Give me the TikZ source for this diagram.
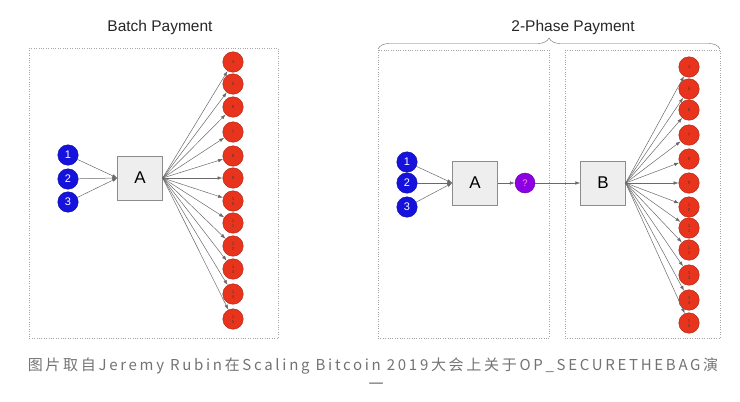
\documentclass[tikz,border=0pt]{standalone}
\usepackage{fontspec}
\setmainfont{Liberation Sans}
\newfontfamily\cjkfont[LetterSpace=18]{Noto Sans CJK SC}
\usepackage{tikz}
\usetikzlibrary{positioning,arrows.meta,decorations.pathreplacing}

\definecolor{inBlue}{RGB}{22,18,222}
\definecolor{outRed}{RGB}{232,52,28}
\definecolor{outRedDark}{RGB}{165,35,20}
\definecolor{midPurple}{RGB}{140,0,228}
\definecolor{boxGrey}{RGB}{238,238,238}
\definecolor{lineGrey}{RGB}{105,105,105}

\tikzset{
  input/.style={circle,fill=inBlue,draw=inBlue!70!black,minimum size=20.5pt,inner sep=0pt,
    text=white,font=\fontsize{11}{11}\selectfont},
  output/.style={circle,fill=outRed,draw=outRedDark,minimum size=20.5pt,inner sep=0pt,
    text=black!75,align=center,font=\fontsize{4.5}{5}\selectfont},
  query/.style={circle,fill=midPurple,draw=midPurple!70!black,minimum size=20pt,inner sep=0pt,
    text=magenta!40,font=\fontsize{9.5}{9.5}\selectfont},
  txbox/.style={rectangle,fill=boxGrey,draw=black!45,minimum width=45pt,minimum height=44pt,
    font=\fontsize{17}{17}\selectfont},
  frame/.style={draw=black!35,dotted},
  flow/.style={draw=lineGrey,line width=0.5pt,-{Latex[length=5pt,width=3.5pt]}},
  heading/.style={font=\fontsize{15.5}{15.5}\selectfont,text=black!85}
}

\begin{document}
\begin{tikzpicture}[x=1pt,y=-1pt]
    \useasboundingbox (0,0) rectangle (740,402);

    % batch payment
    \draw[frame] (29,48) rectangle (278,338);
    \node[heading] (batchTitle) at (160,27) {Batch Payment};
    \node[input] (in1) at (68,155) {1};
    \node[input] (in2) at (68,179) {2};
    \node[input] (in3) at (68,202) {3};
    \node[txbox] (batchA) at (140,178) {A};
    \node[output] (out4) at (233,62) {4};
    \node[output] (out5) at (233,84) {5};
    \node[output] (out6) at (233,107) {6};
    \node[output] (out7) at (233,132) {7};
    \node[output] (out8) at (233,156) {8};
    \node[output] (out9) at (233,178) {9};
    \node[output] (out10) at (233,201) {1\\0};
    \node[output] (out11) at (233,223) {1\\1};
    \node[output] (out12) at (233,246) {1\\2};
    \node[output] (out13) at (233,269) {1\\3};
    \node[output] (out14) at (233,294) {1\\4};
    \node[output] (out15) at (233,319) {1\\5};

\draw[flow] (in1) -- (batchA.west);
\draw[flow] (in2) -- (batchA.west);
\draw[flow] (in3) -- (batchA.west);
\draw[flow] (batchA.east) -- (out4);
\draw[flow] (batchA.east) -- (out5);
\draw[flow] (batchA.east) -- (out6);
\draw[flow] (batchA.east) -- (out7);
\draw[flow] (batchA.east) -- (out8);
\draw[flow] (batchA.east) -- (out9);
\draw[flow] (batchA.east) -- (out10);
\draw[flow] (batchA.east) -- (out11);
\draw[flow] (batchA.east) -- (out12);
\draw[flow] (batchA.east) -- (out13);
\draw[flow] (batchA.east) -- (out14);
\draw[flow] (batchA.east) -- (out15);

    % 2-phase payment
    \draw[frame] (378,50) rectangle (549,338);
    \draw[frame] (565,50) rectangle (720,338);
    \coordinate (braceLeft) at (378,49);
    \coordinate (braceRight) at (720,49);
    \node[heading] (phaseTitle) at (573,27) {2-Phase Payment};
    \node[input] (phIn1) at (407,162) {1};
    \node[input] (phIn2) at (407,183) {2};
    \node[input] (phIn3) at (407,207) {3};
    \node[txbox] (phA) at (475,183) {A};
    \node[query] (phQuery) at (525,183) {?};
    \node[txbox] (phB) at (603,183) {B};
    \node[output] (phOut4) at (689,67) {4};
    \node[output] (phOut5) at (689,89) {5};
    \node[output] (phOut6) at (689,110) {6};
    \node[output] (phOut7) at (689,135) {7};
    \node[output] (phOut8) at (689,159) {8};
    \node[output] (phOut9) at (689,183) {9};
    \node[output] (phOut10) at (689,207) {1\\0};
    \node[output] (phOut11) at (689,228) {1\\1};
    \node[output] (phOut12) at (689,250) {1\\2};
    \node[output] (phOut13) at (689,275) {1\\3};
    \node[output] (phOut14) at (689,300) {1\\4};
    \node[output] (phOut15) at (689,323) {1\\5};

\draw[lineGrey,decorate,decoration={brace,amplitude=11pt}] (braceLeft) -- (braceRight);
\draw[flow] (phIn1) -- (phA.west);
\draw[flow] (phIn2) -- (phA.west);
\draw[flow] (phIn3) -- (phA.west);
\draw[flow] (phA) -- (phQuery);
\draw[flow] (phQuery) -- (phB);
\draw[flow] (phB.east) -- (phOut4);
\draw[flow] (phB.east) -- (phOut5);
\draw[flow] (phB.east) -- (phOut6);
\draw[flow] (phB.east) -- (phOut7);
\draw[flow] (phB.east) -- (phOut8);
\draw[flow] (phB.east) -- (phOut9);
\draw[flow] (phB.east) -- (phOut10);
\draw[flow] (phB.east) -- (phOut11);
\draw[flow] (phB.east) -- (phOut12);
\draw[flow] (phB.east) -- (phOut13);
\draw[flow] (phB.east) -- (phOut14);
\draw[flow] (phB.east) -- (phOut15);

    % caption
    \node[text=black!55,font=\cjkfont\fontsize{15}{15}\selectfont] (caption) at (373,366)
      {图片取自Jeremy Rubin在Scaling Bitcoin 2019大会上关于OP\_SECURETHEBAG演};
    \node[text=black!55,font=\cjkfont\fontsize{15}{15}\selectfont] (captionTail) at (376,386) {一};

\end{tikzpicture}
\end{document}
